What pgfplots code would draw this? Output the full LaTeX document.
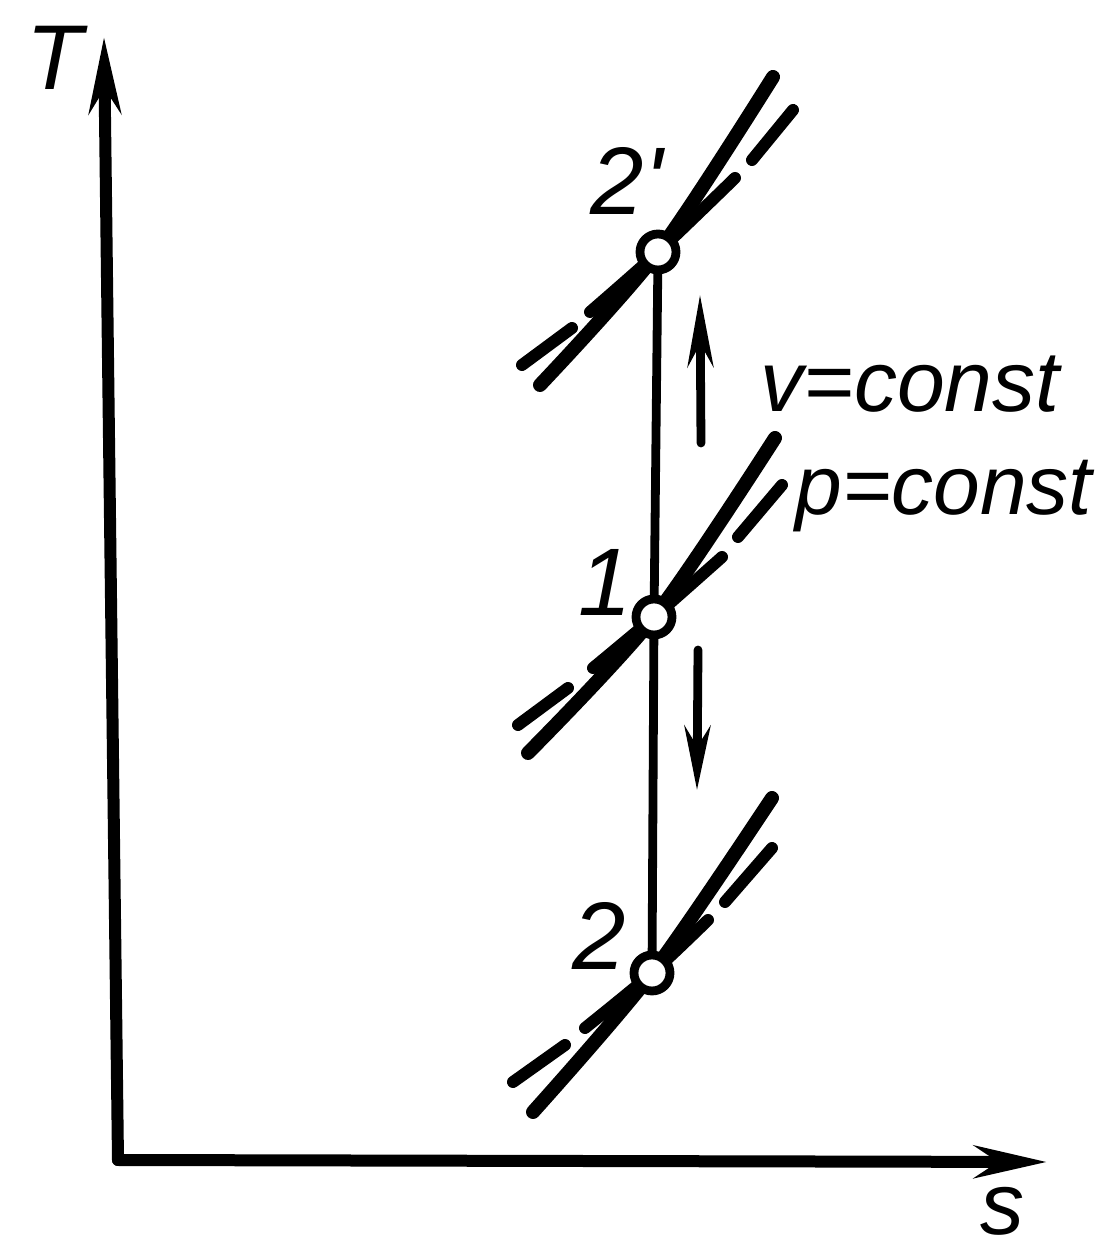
\documentclass[border=0pt]{standalone}
\usepackage{fontspec}
\setmainfont{Liberation Sans}[Ligatures=TeXOff]
\usepackage{pgfplots}
\pgfplotsset{compat=1.18}
\usetikzlibrary{arrows.meta}
\begin{document}
\begin{tikzpicture}
\begin{axis}[x=0.25pt,y=0.25pt,xmin=0,xmax=1120,ymin=0,ymax=1252,
  hide axis,clip=false,
  every axis plot/.append style={line cap=round,line join=round}]
\addplot[draw=none] coordinates {(0,0) (1120,1252)};
% axes
\addplot[line width=3pt,-{Stealth[length=19pt,width=8pt]}] coordinates {(118,92) (104,1215)};
\addplot[line width=3pt,-{Stealth[length=18pt,width=8pt]}] coordinates {(118,92) (1047,90)};
% isochores (steep)
\addplot[line width=3.5pt,smooth] coordinates {(540,867) (658,1000) (773,1175)};
\addplot[line width=3.5pt,smooth] coordinates {(528,499) (654,635) (775,814)};
\addplot[line width=3.5pt,smooth] coordinates {(533,140) (652,279) (772,454)};
% isobars (broken)
\addplot[line width=3pt] coordinates {(522,887) (572,924)};
\addplot[line width=3pt,smooth] coordinates {(590,940) (658,1000) (735,1074)};
\addplot[line width=3pt] coordinates {(752,1092) (793,1142)};
\addplot[line width=3pt] coordinates {(518,527) (568,564)};
\addplot[line width=3pt,smooth] coordinates {(593,584) (654,635) (722,695)};
\addplot[line width=3pt] coordinates {(738,715) (782,767)};
\addplot[line width=3pt] coordinates {(513,170) (565,207)};
\addplot[line width=3pt,smooth] coordinates {(585,224) (652,279) (708,332)};
\addplot[line width=3pt] coordinates {(725,350) (772,404)};
% process line
\addplot[line width=2.2pt] coordinates {(658,1000) (654,635) (652,279)};
% direction arrows
\addplot[line width=2.2pt,-{Stealth[length=18pt,width=6.5pt]}] coordinates {(701,809) (700,957)};
\addplot[line width=2.2pt,-{Stealth[length=16pt,width=6.5pt]}] coordinates {(698,602) (697,462)};
% state points
\addplot[only marks,mark=*,mark size=4.5pt,mark options={fill=white,draw=black,line width=2.2pt}]
  coordinates {(658,1000) (654,635) (652,279)};
% labels
\node[font=\itshape\fontsize{23}{23}\selectfont,anchor=base,inner sep=0pt] at (axis cs:55,1162) {T};
\node[font=\itshape\fontsize{22}{22}\selectfont,anchor=base,inner sep=0pt] at (axis cs:1002,18) {s};
\node[font=\itshape\fontsize{24}{24}\selectfont,anchor=base west,inner sep=0pt] at (axis cs:590,1037) {2'};
\node[font=\itshape\fontsize{24}{24}\selectfont,anchor=base west,inner sep=0pt] at (axis cs:578,636) {1};
\node[font=\itshape\fontsize{24}{24}\selectfont,anchor=base west,inner sep=0pt] at (axis cs:572,282) {2};
\node[font=\itshape\fontsize{21.5}{21.5}\selectfont,anchor=base west,inner sep=0pt] at (axis cs:760,840) {v=const};
\node[font=\itshape\fontsize{21}{21}\selectfont,anchor=base west,inner sep=0pt] at (axis cs:795,737) {p=const};
\end{axis}
\end{tikzpicture}
\end{document}
